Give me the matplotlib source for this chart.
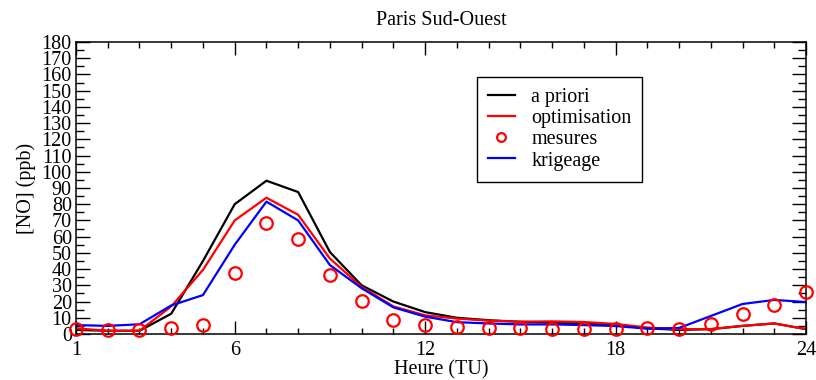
import matplotlib
matplotlib.use("Agg")
import matplotlib.pyplot as plt
from matplotlib.ticker import MultipleLocator, FixedLocator

plt.rcParams['font.family'] = ['Liberation Serif', 'DejaVu Serif']

hours = list(range(1, 25))
a_priori = [2.5, 2, 2, 12.5, 45, 80, 94.5, 87.5, 50.5, 30, 20, 13.5,
            10, 8.5, 7.5, 7, 6.5, 5.5, 3.5, 2.5, 3, 5, 6.5, 3]
optimisation = [3.5, 2, 2, 17, 39.5, 70, 84, 73.5, 46.5, 29, 17, 11.5,
                9.5, 8.2, 7.6, 7.8, 7.4, 6.2, 4, 3, 3, 5, 6.5, 3]
mesures = [3, 2.5, 2.5, 4, 5.3, 37.8, 68.2, 58.8, 36.4, 20.6, 8.4, 5.8,
           4.1, 4, 3.7, 3.3, 3.3, 3.3, 3.7, 3.3, 6, 12.1, 17.9, 26.1]
krigeage = [5.5, 5, 6, 17.6, 24, 55, 81.6, 70, 42.5, 28.2, 16.4, 10.7,
            7.3, 6.5, 5.9, 5.9, 5.5, 4.9, 3.3, 3.7, 11.1, 18.5, 21, 19.7]
xticks = [1, 6, 12, 18, 24]

fs = 14.5
fig = plt.figure(figsize=(8.16, 3.8), dpi=100)
ax = fig.add_axes([76/816, 46/380, 730/816, 292/380])

ax.plot(hours, a_priori, color='black', lw=1.6, label='a priori')
ax.plot(hours, optimisation, color='red', lw=1.6, label='optimisation')
ax.plot(hours, mesures, linestyle='none', marker='o', ms=9, mfc='none',
        mec='red', mew=1.6, label='mesures', clip_on=False, zorder=5)
ax.plot(hours, krigeage, color='blue', lw=1.6, label='krigeage')

ax.set_xlim(1, 24)
ax.set_ylim(0, 180)
ax.xaxis.set_major_locator(FixedLocator(xticks))
ax.xaxis.set_minor_locator(MultipleLocator(1))
ax.yaxis.set_major_locator(MultipleLocator(10))
ax.yaxis.set_minor_locator(MultipleLocator(5))
ax.tick_params(axis='x', which='major', direction='in', length=9.4, width=1,
               top=True, labelsize=fs, pad=5)
ax.tick_params(axis='x', which='minor', direction='in', length=4.3, width=1, top=True)
ax.tick_params(axis='y', which='major', direction='in', length=10, width=1,
               right=True, labelsize=fs, pad=3)
ax.tick_params(axis='y', which='minor', direction='in', length=5.8, width=1, right=True)
for s in ax.spines.values():
    s.set_linewidth(1.1)

ax.set_title('Paris Sud-Ouest', fontsize=fs, pad=12)
ax.set_xlabel('Heure (TU)', fontsize=fs, labelpad=0)
ax.set_ylabel('[NO] (ppb)', fontsize=fs, labelpad=4)

leg = ax.legend(loc='upper left', bbox_to_anchor=(0.549, 0.880), borderaxespad=0,
                fontsize=fs, fancybox=False, edgecolor='black', framealpha=1,
                handlelength=1.35, handletextpad=0.8, labelspacing=0.1,
                borderpad=0.55, markerscale=0.7)
leg.get_frame().set_linewidth(1.0)

fig.savefig('out.png', dpi=100)
